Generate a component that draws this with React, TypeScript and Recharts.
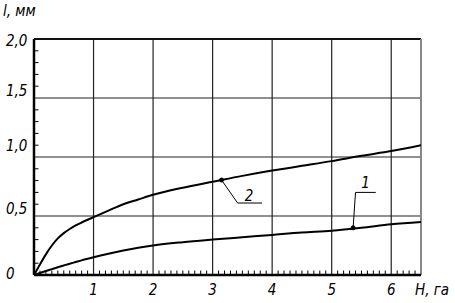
import React from 'react';
import { LineChart, Line, XAxis, YAxis, ReferenceLine, ReferenceDot } from 'recharts';

const xValues = [0, 0.1, 0.2, 0.3, 0.4, 0.5, 0.6, 0.7, 0.8, 0.9, 1, 1.25, 1.5, 1.75, 2, 2.5, 3, 3.5, 4, 4.5, 5, 5.5, 6, 6.5];
const curve2 = [0, 0.09, 0.175, 0.25, 0.31, 0.355, 0.39, 0.42, 0.445, 0.468, 0.49, 0.545, 0.6, 0.64, 0.68, 0.74, 0.79, 0.84, 0.885, 0.925, 0.965, 1.01, 1.05, 1.1];
const curve1 = [0, 0.017, 0.034, 0.05, 0.066, 0.081, 0.096, 0.11, 0.124, 0.137, 0.15, 0.18, 0.207, 0.23, 0.25, 0.278, 0.3, 0.32, 0.34, 0.36, 0.375, 0.4, 0.43, 0.45];

const xMajor = [1, 2, 3, 4, 5, 6];
const xMajorLabels = ['1', '2', '3', '4', '5', '6'];
const xAxisTitle = 'H, га';
const xEnd = 6.5;
const yMajor = [0, 0.5, 1, 1.5, 2];
const yMajorLabels = ['0', '0,5', '1,0', '1,5', '2,0'];
const gridX = [1, 2, 3, 4, 5, 6];
const gridY = [0.5, 1, 1.5];
// minor tick positions (every 0.1)
const xTickPositions = [...Array.from({ length: 64 }, (_, i) => Math.round((i + 1) * 10) / 100 * 10 / 10), xEnd].map((v) => Math.round(v * 10) / 10);
const yTickPositions = Array.from({ length: 21 }, (_, i) => Math.round(i) / 10);

const yAxisTitle = 'l, мм';
const markers = [
  { x: 3.15, y: 0.805, label: '2', bend: { x: 3.42, y: 0.61 }, end: { x: 3.83, y: 0.61 }, text: { x: 3.61, y: 0.67 } },
  { x: 5.36, y: 0.4, label: '1', bend: { x: 5.4, y: 0.7 }, end: { x: 5.74, y: 0.7 }, text: { x: 5.57, y: 0.78 } },
];

const data = xValues.map((x, i) => ({ x, c1: curve1[i], c2: curve2[i] }));

const FONT = "'Liberation Sans Narrow', 'DejaVu Sans Condensed', 'Liberation Sans', sans-serif";
const textStyle = { fontFamily: FONT, fontSize: 15, fontStyle: 'italic' as const, fill: '#000' };

const yOffsets: Record<string, number> = { '0': 3.5, '0.5': -2.5, '1': -6.5, '1.5': -2.5, '2': 7 };

const near = (a: number, b: number) => Math.abs(a - b) < 1e-6;

const XTick = (props: any) => {
  const { x, y, payload } = props;
  const v = payload.value;
  const base = y - 8; // axis line position
  if (near(v, xEnd)) {
    return (
      <text x={x - 6} y={y + 12} textAnchor="start" style={textStyle}>
        {xAxisTitle}
      </text>
    );
  }
  const idx = xMajor.findIndex((m) => near(m, v));
  if (idx >= 0) {
    return (
      <text x={x} y={y + 12} textAnchor="middle" style={textStyle}>
        {xMajorLabels[idx]}
      </text>
    );
  }
  return <line x1={x} x2={x} y1={base} y2={base - 4.5} stroke="#000" strokeWidth={1} />;
};

const YTick = (props: any) => {
  const { x, y, payload } = props;
  const v = payload.value;
  const base = x + 8; // axis line position
  const idx = yMajor.findIndex((m) => near(m, v));
  if (idx >= 0) {
    return (
      <text x={6} y={y + (yOffsets[String(yMajor[idx])] ?? 0)} textAnchor="start" style={textStyle}>
        {yMajorLabels[idx]}
      </text>
    );
  }
  return <line x1={base} x2={base + 4.5} y1={y} y2={y} stroke="#000" strokeWidth={1} />;
};

export default function App() {
  return (
    <div style={{ position: 'absolute', left: 0, top: 0, background: '#fff' }}>
      <div style={{ position: 'relative', width: 455, height: 303 }}>
        <div style={{ position: 'absolute', left: 3, top: 2, fontFamily: FONT, fontSize: 15, fontStyle: 'italic', color: '#000' }}>
          {yAxisTitle}
        </div>
        <LineChart width={455} height={303} data={data} margin={{ top: 39, right: 34, bottom: 0, left: 0 }}>
          <XAxis
            type="number"
            dataKey="x"
            domain={[0, xEnd]}
            ticks={xTickPositions}
            interval={0}
            tick={<XTick />}
            tickLine={false}
            axisLine={{ stroke: '#000', strokeWidth: 2.5 }}
            height={28}
            allowDataOverflow
          />
          <YAxis
            type="number"
            domain={[0, 2]}
            ticks={yTickPositions}
            interval={0}
            tick={<YTick />}
            tickLine={false}
            axisLine={{ stroke: '#000', strokeWidth: 2.5 }}
            width={34}
            allowDataOverflow
          />
          {gridX.map((gx) => (
            <ReferenceLine key={'gx' + gx} x={gx} stroke="#222" strokeWidth={1.2} />
          ))}
          {gridY.map((gy) => (
            <ReferenceLine key={'gy' + gy} y={gy} stroke="#222" strokeWidth={1.2} />
          ))}
          <ReferenceLine y={2} stroke="#111" strokeWidth={1.8} />
          <ReferenceLine x={xEnd} stroke="#888" strokeWidth={2} />
          <Line type="monotone" dataKey="c2" stroke="#000" strokeWidth={2} dot={false} isAnimationActive={false} />
          <Line type="monotone" dataKey="c1" stroke="#000" strokeWidth={2} dot={false} isAnimationActive={false} />
          {markers.map((m) => (
            <ReferenceLine key={'s1' + m.label} segment={[{ x: m.x, y: m.y }, m.bend]} stroke="#000" strokeWidth={1} />
          ))}
          {markers.map((m) => (
            <ReferenceLine key={'s2' + m.label} segment={[m.bend, m.end]} stroke="#000" strokeWidth={1} />
          ))}
          {markers.map((m) => (
            <ReferenceDot key={'d' + m.label} x={m.x} y={m.y} r={2} fill="#000" stroke="#000" />
          ))}
          {markers.map((m) => (
            <ReferenceDot
              key={'t' + m.label}
              x={m.text.x}
              y={m.text.y}
              r={0}
              fill="none"
              stroke="none"
              label={{ value: m.label, position: 'center', ...textStyle }}
            />
          ))}
        </LineChart>
      </div>
    </div>
  );
}
